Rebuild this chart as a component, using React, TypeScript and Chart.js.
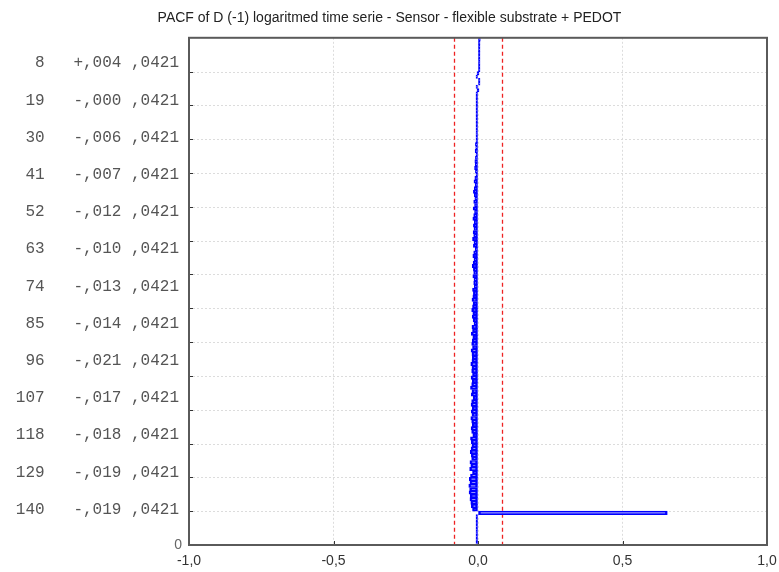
import { useEffect, useRef } from 'react';
import { Chart, registerables } from 'chart.js';

Chart.register(...registerables);

const TITLE = 'PACF of D (-1) logaritmed time serie - Sensor - flexible substrate + PEDOT';

// Lag numbers 1..150 (lag 1 at the top of the plot)
const lags: number[] = Array.from({ length: 150 }, (_, i) => i + 1);

// Partial autocorrelation for each lag
const pacf: number[] = [
  0.008, 0.006, 0.003, 0.002, 0.004, 0.002, 0.001, 0.004, 0.002, 0.001,
  0.000, -0.001, 0.002, 0.001, -0.002, 0.000, -0.001, -0.002, -0.0004, -0.003,
  -0.002, -0.004, -0.003, -0.002, -0.005, -0.004, -0.006, -0.005, -0.007, -0.006,
  -0.006, -0.009, -0.008, -0.010, -0.007, -0.009, -0.011, -0.010, -0.012, -0.009,
  -0.007, -0.011, -0.014, -0.010, -0.013, -0.016, -0.013, -0.011, -0.015, -0.012,
  -0.017, -0.012, -0.015, -0.018, -0.013, -0.016, -0.014, -0.017, -0.015, -0.019,
  -0.014, -0.016, -0.010, -0.015, -0.018, -0.014, -0.017, -0.020, -0.016, -0.015,
  -0.018, -0.014, -0.015, -0.013, -0.019, -0.016, -0.018, -0.021, -0.017, -0.019,
  -0.022, -0.018, -0.020, -0.017, -0.014, -0.021, -0.019, -0.023, -0.018, -0.020,
  -0.022, -0.019, -0.024, -0.021, -0.020, -0.021, -0.025, -0.021, -0.022, -0.019,
  -0.024, -0.020, -0.022, -0.026, -0.021, -0.023, -0.017, -0.022, -0.024, -0.020,
  -0.023, -0.021, -0.025, -0.022, -0.020, -0.024, -0.022, -0.018, -0.026, -0.023,
  -0.021, -0.024, -0.027, -0.023, -0.022, -0.028, -0.025, -0.029, -0.019, -0.026,
  -0.030, -0.028, -0.032, -0.029, -0.031, -0.027, -0.028, -0.025, -0.023, -0.019,
  0.655, -0.004, -0.003, -0.005, -0.004, -0.003, -0.002, -0.003, -0.002, -0.001,
];

// Lags whose coefficient and standard error are printed beside the axis
const labeledLags: number[] = [8, 19, 30, 41, 52, 63, 74, 85, 96, 107, 118, 129, 140];

// Horizontal grid positions, counted upward from the bottom of the lag axis
const lagGridValues: number[] = [10, 20, 30, 40, 50, 60, 70, 80, 90, 100, 110, 120, 130, 140];

const STD_ERROR = 0.0421;
const CONF_LIMIT = 0.0825;

const X_MIN = -1;
const X_MAX = 1;
const X_STEP = 0.5;

const fmtCoef = (v: number) => {
  const sign = v >= 0 ? '+' : '-';
  return sign + ',' + Math.abs(v).toFixed(3).slice(2);
};
const fmtSE = (v: number) => ',' + v.toFixed(4).slice(2);
const fmtX = (v: number) => v.toFixed(1).replace('.', ',');

// Pixel of a position counted from the bottom of the lag axis, via the category scale
const lagAxisPixel = (scale: any, v: number) => scale.getPixelForValue(lags.length - v - 0.5);

const framePlugin = {
  id: 'pacfFrame',
  beforeDatasetsDraw(chart: any) {
    const { ctx, chartArea, scales } = chart;
    const { left, right, top, bottom } = chartArea;
    ctx.save();
    // dotted horizontal grid
    ctx.strokeStyle = '#dcdcdc';
    ctx.lineWidth = 1;
    ctx.setLineDash([2, 2]);
    lagGridValues.forEach((v) => {
      const py = Math.round(lagAxisPixel(scales.y, v)) + 0.5;
      ctx.beginPath();
      ctx.moveTo(left, py);
      ctx.lineTo(right, py);
      ctx.stroke();
    });
    // confidence limits
    ctx.strokeStyle = '#ee2222';
    ctx.lineWidth = 1.3;
    ctx.setLineDash([4, 3]);
    [-CONF_LIMIT, CONF_LIMIT].forEach((c) => {
      const px = Math.round(scales.x.getPixelForValue(c)) + 0.5;
      ctx.beginPath();
      ctx.moveTo(px, top);
      ctx.lineTo(px, bottom);
      ctx.stroke();
    });
    ctx.restore();
  },
  afterDraw(chart: any) {
    const { ctx, chartArea, scales } = chart;
    const { left, right, top, bottom } = chartArea;
    ctx.save();
    // inner tick marks
    ctx.strokeStyle = '#333';
    ctx.lineWidth = 1;
    lagGridValues.forEach((v) => {
      const py = Math.round(lagAxisPixel(scales.y, v)) + 0.5;
      ctx.beginPath();
      ctx.moveTo(left, py);
      ctx.lineTo(left + 4, py);
      ctx.stroke();
    });
    scales.x.ticks.forEach((t: any) => {
      const px = Math.round(scales.x.getPixelForValue(t.value)) + 0.5;
      ctx.beginPath();
      ctx.moveTo(px, bottom);
      ctx.lineTo(px, bottom - 4);
      ctx.stroke();
    });
    // frame
    ctx.strokeStyle = '#5a5a5a';
    ctx.lineWidth = 2;
    ctx.strokeRect(left, top, right - left, bottom - top);
    // zero label of the lag axis
    ctx.fillStyle = '#666';
    ctx.font = '14px "Liberation Sans", Arial, sans-serif';
    ctx.textAlign = 'right';
    ctx.textBaseline = 'middle';
    ctx.fillText('0', left - 7, lagAxisPixel(scales.y, 0));
    ctx.restore();
  },
};

export default function App() {
  const canvasRef = useRef<HTMLCanvasElement | null>(null);

  useEffect(() => {
    const canvas = canvasRef.current;
    if (!canvas) return;
    const chart = new Chart(canvas, {
      type: 'bar',
      data: {
        labels: lags.map(String),
        datasets: [
          {
            data: pacf,
            backgroundColor: 'rgba(90,90,255,0.6)',
            borderColor: '#0000ff',
            borderWidth: 2,
            borderSkipped: false,
            minBarLength: 2,
            categoryPercentage: 1,
            barPercentage: 1,
          },
        ],
      },
      options: {
        indexAxis: 'y',
        animation: false,
        responsive: false,
        maintainAspectRatio: false,
        layout: { padding: 0 },
        plugins: {
          legend: { display: false },
          tooltip: { enabled: false },
          title: {
            display: true,
            text: TITLE,
            color: '#222',
            font: { family: '"Liberation Sans", Arial, sans-serif', size: 14, weight: 'normal' },
            padding: { top: 10, bottom: 11 },
          },
        },
        scales: {
          x: {
            type: 'linear',
            min: X_MIN,
            max: X_MAX,
            ticks: {
              stepSize: X_STEP,
              autoSkip: false,
              maxRotation: 0,
              padding: 8,
              color: '#333',
              font: { family: '"Liberation Sans", Arial, sans-serif', size: 14 },
              callback: (v: any) => fmtX(Number(v)),
            },
            grid: { color: '#dcdcdc', drawTicks: false },
            border: { display: false, dash: [2, 2] },
            afterFit: (s: any) => {
              s.height = 27;
              s.paddingLeft = 0;
              s.paddingRight = 12;
            },
          },
          y: {
            type: 'category',
            position: 'left',
            offset: true,
            grid: { display: false, drawTicks: false },
            border: { display: false },
            ticks: {
              autoSkip: false,
              padding: 10,
              color: '#555',
              font: { family: '"Liberation Mono", "Courier New", monospace', size: 16 },
              callback: (_v: any, i: number) => {
                const lag = lags[i];
                if (!labeledLags.includes(lag)) return '';
                return String(lag).padStart(3, ' ') + '   ' + fmtCoef(pacf[i]) + ' ' + fmtSE(STD_ERROR);
              },
            },
            afterFit: (s: any) => {
              s.width = 189;
              s.paddingTop = 0;
              s.paddingBottom = 0;
            },
          },
        },
      } as any,
      plugins: [framePlugin],
    });
    return () => chart.destroy();
  }, []);

  return (
    <div style={{ position: 'fixed', left: 0, top: 0, width: 779, height: 572, background: '#fff' }}>
      <canvas ref={canvasRef} width={779} height={572} style={{ display: 'block' }} />
    </div>
  );
}
